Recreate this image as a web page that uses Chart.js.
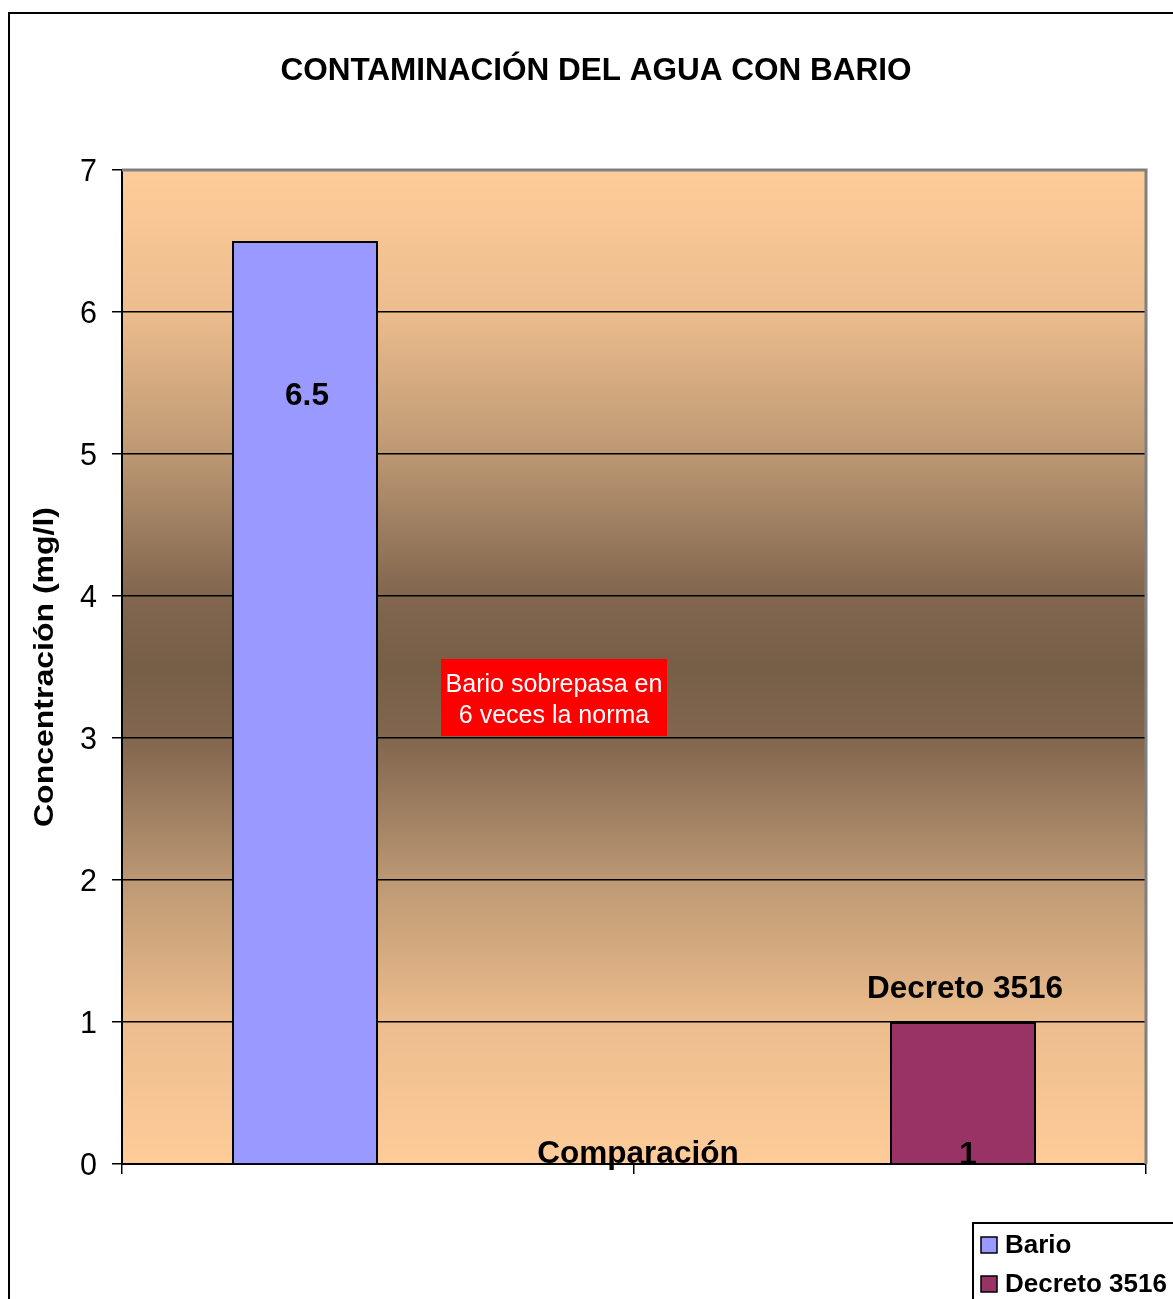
<!DOCTYPE html>
<html>
<head>
<meta charset="utf-8">
<script src="https://cdn.jsdelivr.net/npm/chart.js@4.4.1/dist/chart.umd.min.js"></script>
<style>
  html, body { margin: 0; padding: 0; background: #fff; overflow: hidden; }
  #wrap { width: 1173px; height: 1299px; position: relative; }
</style>
</head>
<body>
<div id="wrap"><canvas id="c" width="1173" height="1299"></canvas></div>
<script>
// Texts and values of the chart
const chartTitle = 'CONTAMINACIÓN DEL AGUA CON BARIO';
const yAxisTitle = 'Concentración (mg/l)';
const xAxisTitle = 'Comparación';
const categories = ['Bario', 'Decreto 3516'];
const seriesNames = ['Bario', 'Decreto 3516'];
const barioValues = [6.5, null];
const decretoValues = [null, 1];
const yTickValues = [0, 1, 2, 3, 4, 5, 6, 7];
const noteLines = ['Bario sobrepasa en', '6 veces la norma'];

const FONT = 'Arial, "Liberation Sans", sans-serif';

// Frame, plot background gradient and right/top plot border
const backdrop = {
  id: 'backdrop',
  beforeDraw(chart) {
    const { ctx, chartArea: a } = chart;
    ctx.save();
    ctx.fillStyle = '#fff';
    ctx.fillRect(0, 0, chart.width, chart.height);
    ctx.strokeStyle = '#000';
    ctx.lineWidth = 2;
    ctx.strokeRect(9, 13, chart.width + 40, chart.height + 40);
    const g = ctx.createLinearGradient(0, a.top, 0, a.bottom);
    g.addColorStop(0, '#FECC99');
    g.addColorStop(0.14, '#EDBD8D');
    g.addColorStop(0.28, '#BE9A74');
    g.addColorStop(0.42, '#846850');
    g.addColorStop(0.5, '#775E47');
    g.addColorStop(0.58, '#846850');
    g.addColorStop(0.72, '#BE9A74');
    g.addColorStop(0.86, '#EDBD8D');
    g.addColorStop(1, '#FECC99');
    ctx.fillStyle = g;
    ctx.fillRect(a.left, a.top, a.right - a.left, a.bottom - a.top);
    ctx.restore();
  },
  afterDraw(chart) {
    const { ctx, chartArea: a } = chart;
    ctx.save();
    ctx.strokeStyle = '#808080';
    ctx.lineWidth = 3;
    ctx.beginPath();
    ctx.moveTo(a.left, a.top);
    ctx.lineTo(a.right, a.top);
    ctx.lineTo(a.right, a.bottom);
    ctx.stroke();
    ctx.restore();
  }
};

// Titles, data labels, note box and legend
const overlay = {
  id: 'overlay',
  afterDraw(chart) {
    const { ctx, chartArea: a } = chart;
    ctx.save();
    ctx.fillStyle = '#000';

    // chart title
    ctx.font = 'bold 31.5px ' + FONT;
    ctx.textAlign = 'center';
    ctx.textBaseline = 'alphabetic';
    ctx.fillText(chartTitle, 596, 80);

    // y axis title (rotated)
    ctx.save();
    ctx.translate(46, (a.top + a.bottom) / 2);
    ctx.rotate(-Math.PI / 2);
    ctx.font = 'bold 27px ' + FONT;
    const w = ctx.measureText(yAxisTitle).width;
    ctx.scale(320 / w, 1);
    ctx.textBaseline = 'middle';
    ctx.fillText(yAxisTitle, 0, 0);
    ctx.restore();

    // x axis title, sitting on the axis line
    ctx.font = 'bold 31.5px ' + FONT;
    ctx.textBaseline = 'alphabetic';
    ctx.fillText(xAxisTitle, (a.left + a.right) / 2 + 4, a.bottom - 1);

    // data labels
    const barBario = chart.getDatasetMeta(0).data[0];
    const barDecreto = chart.getDatasetMeta(1).data[1];
    ctx.textBaseline = 'middle';
    ctx.fillText(String(barioValues[0]), barBario.x + 2, barBario.y + 155);
    ctx.fillText(seriesNames[1], barDecreto.x + 2, barDecreto.y - 33);
    ctx.textBaseline = 'alphabetic';
    ctx.fillText(String(decretoValues[1]), barDecreto.x + 5, a.bottom);

    // note box
    ctx.fillStyle = '#FF0000';
    ctx.fillRect(441, 659, 226, 77);
    ctx.fillStyle = '#fff';
    ctx.font = '25px ' + FONT;
    ctx.textBaseline = 'middle';
    ctx.fillText(noteLines[0], 554, 685);
    ctx.fillText(noteLines[1], 554, 716);

    // legend
    ctx.fillStyle = '#fff';
    ctx.fillRect(973, 1223, 260, 120);
    ctx.strokeStyle = '#000';
    ctx.lineWidth = 2;
    ctx.strokeRect(973, 1223, 260, 120);
    ctx.textAlign = 'left';
    ctx.font = 'bold 26px ' + FONT;
    chart.data.datasets.forEach((ds, i) => {
      const y = 1237 + i * 39;
      ctx.fillStyle = ds.backgroundColor;
      ctx.fillRect(981, y, 16, 16);
      ctx.lineWidth = 1.5;
      ctx.strokeRect(981, y, 16, 16);
      ctx.fillStyle = '#000';
      ctx.fillText(ds.label, 1005, y + 9);
    });
    ctx.restore();
  }
};

new Chart(document.getElementById('c'), {
  type: 'bar',
  data: {
    labels: categories,
    datasets: [
      { label: seriesNames[0], data: barioValues, backgroundColor: '#9999FF', borderColor: '#000', borderWidth: 2 },
      { label: seriesNames[1], data: decretoValues, backgroundColor: '#993366', borderColor: '#000', borderWidth: 2 }
    ]
  },
  options: {
    responsive: false,
    animation: false,
    devicePixelRatio: 1,
    categoryPercentage: 292 / 512,
    barPercentage: 1,
    layout: { padding: { top: 170, right: 27, left: 0, bottom: 0 } },
    plugins: { legend: { display: false }, tooltip: { enabled: false }, title: { display: false } },
    scales: {
      x: {
        afterFit(s) { s.height = 135; },
        ticks: { display: false },
        grid: { offset: true, drawOnChartArea: false, drawTicks: true, tickLength: 10, color: '#000', lineWidth: 1.5 },
        border: { display: true, color: '#000', width: 2 }
      },
      y: {
        min: yTickValues[0],
        max: yTickValues[yTickValues.length - 1],
        afterFit(s) { s.width = 122; },
        afterBuildTicks(s) { s.ticks = yTickValues.map(v => ({ value: v })); },
        ticks: { color: '#000', padding: 15, labelOffset: 3, font: { family: FONT, size: 30.5 } },
        grid: {
          color: c => (c.tick && c.tick.value === 7 ? 'rgba(0,0,0,0)' : '#000'),
          lineWidth: 1.5,
          tickColor: '#000',
          tickLength: 10,
          drawTicks: true
        },
        border: { display: true, color: '#000', width: 2 }
      }
    }
  },
  plugins: [backdrop, overlay]
});
</script>
</body>
</html>
